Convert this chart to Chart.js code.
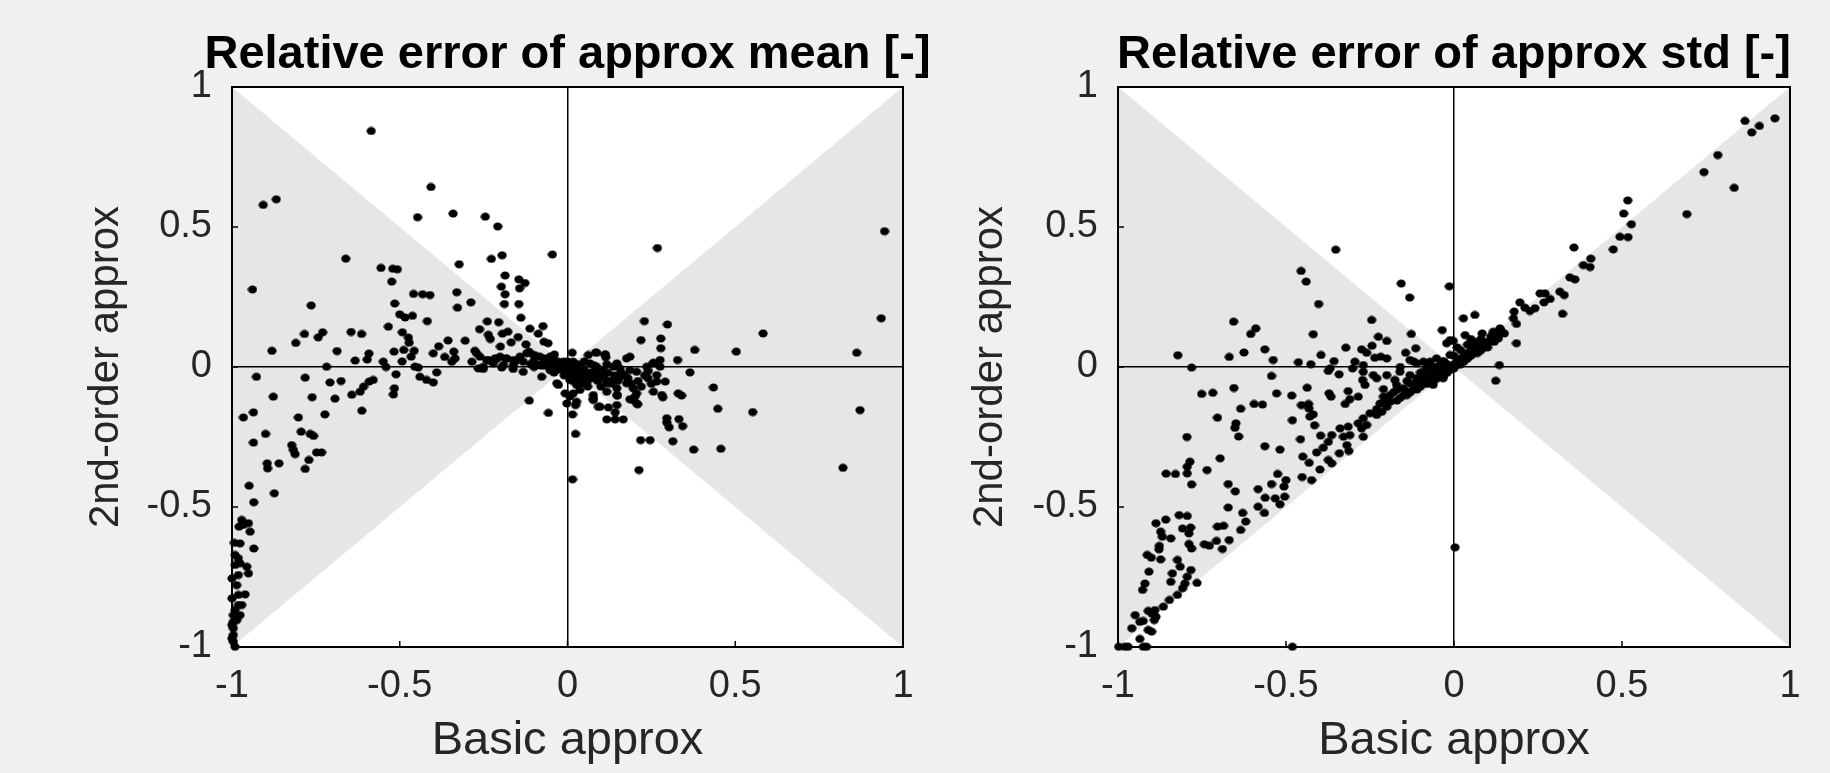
<!DOCTYPE html>
<html>
<head>
<meta charset="utf-8">
<script src="https://cdn.jsdelivr.net/npm/chart.js@4/dist/chart.umd.min.js"></script>
<style>
  body { margin: 0; background: #f0f0f0; overflow: hidden; }
  #wrap { position: relative; width: 1830px; height: 773px; overflow: hidden; }
  canvas { position: absolute; top: 0; }
</style>
</head>
<body>
<div id="wrap">
  <!-- the left canvas runs under the right one so its wide title is not cut -->
  <canvas id="meanChart" width="1000" height="773" style="left:0"></canvas>
  <canvas id="stdChart" width="915" height="773" style="left:915px"></canvas>
</div>
<script>
// axis ticks shared by both panels
const tickValues = [-1, -0.5, 0, 0.5, 1];
const tickLabels = ["-1", "-0.5", "0", "0.5", "1"];

// shaded region |y| < |x| (bow tie)
const shadeX = [-1, 0, 1, 1, 0, -1];
const shadeY = [1, 0, 1, -1, 0, -1];

// [basic approx, 2nd-order approx] relative error of the mean
const meanPts = [
  [-0.585,0.843],[-0.907,0.579],[-0.868,0.599],[-0.407,0.643],[-0.447,0.535],[-0.341,0.548],[-0.245,0.537],[-0.208,0.502],[-0.045,0.402],[-0.661,0.387],
  [-0.227,0.386],[-0.195,0.399],[-0.323,0.367],[-0.556,0.354],[-0.521,0.351],[-0.507,0.349],[-0.524,0.305],[-0.939,0.277],[-0.186,0.327],[-0.145,0.313],
  [-0.127,0.300],[-0.197,0.287],[-0.143,0.281],[-0.186,0.260],[-0.459,0.261],[-0.432,0.260],[-0.410,0.257],[-0.330,0.267],[-0.515,0.227],[-0.764,0.220],
  [-0.288,0.231],[-0.328,0.212],[-0.188,0.225],[-0.145,0.225],[-0.500,0.188],[-0.484,0.177],[-0.462,0.183],[-0.139,0.176],[-0.418,0.164],[-0.239,0.163],
  [-0.205,0.160],[-0.534,0.144],[-0.262,0.135],[-0.112,0.137],[-0.073,0.146],[-0.784,0.118],[-0.730,0.124],[-0.743,0.106],[-0.645,0.125],[-0.614,0.118],
  [-0.492,0.124],[-0.236,0.115],[-0.194,0.119],[-0.178,0.126],[-0.087,0.119],[-0.474,0.105],[-0.230,0.100],[-0.168,0.088],[-0.147,0.107],[-0.810,0.086],
  [-0.472,0.087],[-0.384,0.074],[-0.356,0.095],[-0.305,0.094],[-0.200,0.073],[-0.124,0.081],[-0.070,0.090],[-0.058,0.085],[-0.881,0.058],[-0.687,0.057],
  [-0.488,0.061],[-0.457,0.058],[-0.517,0.055],[-0.592,0.048],[-0.633,0.023],[-0.597,0.027],[-0.549,0.019],[-0.493,0.020],[-0.466,0.037],[-0.400,0.049],
  [-0.366,0.036],[-0.339,0.055],[-0.335,0.031],[-0.345,0.019],[-0.276,0.058],[-0.271,0.049],[-0.285,0.019],[-0.236,0.025],[-0.211,0.029],[-0.184,0.029],
  [-0.156,0.019],[-0.115,0.055],[-0.095,0.040],[-0.070,0.031],[-0.052,0.037],[-0.039,0.045],[-0.027,0.019],[-0.718,0.001],[-0.455,0.001],
  [-0.261,0.037],[-0.241,0.025],[-0.216,0.031],[-0.201,0.037],[-0.181,0.031],[-0.161,0.025],[-0.142,0.037],[-0.122,0.049],[-0.102,0.043],[-0.082,0.037],
  [-0.062,0.025],[-0.042,0.031],[-0.022,0.013],[-0.002,0.013],[-0.251,0.001],[-0.221,0.013],[-0.191,0.007],[-0.161,0.007],[-0.132,0.019],[-0.102,0.019],
  [-0.072,0.013],[-0.042,0.007],[-0.012,0.001],[-0.132,-0.017],[-0.077,-0.035],[-0.032,-0.058],[-0.007,-0.094],[-0.002,-0.130],[-0.114,-0.120],[0.020,-0.040],
  [0.027,-0.064],[0.007,-0.046],[0.037,-0.082],[0.017,-0.094],[0.037,0.001],[0.067,0.013],[0.087,0.001],[0.107,-0.011],[0.137,0.001],[0.156,-0.005],
  [0.186,-0.011],[0.206,-0.017],[0.236,0.001],[0.256,0.013],[0.276,0.001],[0.062,0.043],[0.087,0.051],[0.112,0.043],[0.176,0.031],[0.186,0.037],
  [0.117,-0.058],[0.137,-0.046],[0.156,-0.035],[0.147,-0.076],[0.176,-0.058],[0.196,-0.076],[0.206,-0.094],[0.117,-0.088],[0.077,-0.100],[0.077,-0.118],
  [0.147,-0.100],[0.147,-0.136],[0.196,-0.118],[0.206,-0.130],[0.256,-0.088],[0.281,-0.100],[0.266,-0.052],[0.291,-0.052],[0.330,-0.094],[0.092,-0.142],
  [0.122,-0.144],[0.027,-0.124],[0.007,-0.106],
  [-0.03,0.0],[-0.02,-0.01],[-0.01,0.005],[0.0,-0.01],[0.01,-0.02],[0.02,-0.005],[0.03,-0.02],[0.04,-0.03],[0.05,-0.01],[0.06,-0.03],
  [0.07,-0.02],[0.08,-0.04],[0.09,-0.015],[0.10,-0.03],[0.12,-0.02],[0.05,0.02],[0.03,0.01],[-0.06,0.01],[-0.08,0.005],[-0.10,0.0],
  [0.0,0.02],[0.015,-0.05],[0.04,-0.06],[0.06,-0.07],[0.10,-0.07],[0.13,-0.06],[0.16,-0.02],[0.18,-0.04],[0.21,-0.05],[0.23,-0.03],[0.25,-0.06],
  [0.00,-0.03],[0.02,-0.03],[0.04,-0.01],[0.06,-0.05],[0.08,-0.02],[0.09,-0.05],[0.11,-0.04],[0.12,-0.05],[0.14,-0.03],[0.15,-0.05],
  [0.17,-0.03],[0.19,-0.06],[0.22,-0.07],[0.24,-0.04],[0.03,-0.04],[0.05,-0.04],[-0.01,-0.03],[-0.04,-0.02],[-0.05,0.0],[-0.07,0.005],
  [-0.09,0.01],[-0.11,0.01],[0.01,0.00],[0.02,0.01],[0.04,0.005],
  [0.268,0.425],[0.945,0.485],[0.935,0.174],[0.229,0.164],[0.298,0.152],[0.583,0.120],[0.219,0.096],[0.278,0.102],[0.278,0.067],[0.379,0.061],
  [0.503,0.055],[0.862,0.051],[0.328,0.025],[0.276,0.025],[0.256,0.015],[0.113,0.045],[0.114,0.035],[0.084,0.052],[0.014,0.051],[0.147,0.013],
  [0.117,0.010],[0.077,0.007],[0.017,0.019],[-0.012,0.019],
  [-0.541,0.000],[-0.445,-0.002],[-0.390,-0.019],[-0.266,-0.005],[-0.251,-0.007],[-0.196,-0.002],[-0.162,-0.007],[-0.052,-0.011],[-0.027,-0.064],[-0.057,-0.164],
  [-0.927,-0.035],[-0.782,-0.038],[-0.708,-0.055],[-0.675,-0.050],[-0.877,-0.106],[-0.761,-0.108],[-0.693,-0.113],[-0.643,-0.099],[-0.618,-0.088],[-0.608,-0.070],
  [-0.591,-0.052],[-0.579,-0.046],[-0.511,-0.026],[-0.516,-0.076],[-0.519,-0.098],[-0.440,-0.035],[-0.420,-0.046],[-0.400,-0.055],[-0.966,-0.180],[-0.936,-0.162],
  [-0.802,-0.180],[-0.723,-0.169],[-0.613,-0.156],[-0.900,-0.239],[-0.936,-0.270],[-0.794,-0.231],[-0.767,-0.239],[-0.757,-0.246],[-0.822,-0.279],[-0.817,-0.296],
  [-0.812,-0.311],[-0.748,-0.305],[-0.733,-0.305],[-0.771,-0.332],[-0.895,-0.344],[-0.894,-0.362],[-0.860,-0.344],[-0.782,-0.364],[-0.949,-0.424],[-0.874,-0.451],
  [-0.935,-0.483],[-0.971,-0.546],[-0.966,-0.564],[-0.951,-0.558],[-0.946,-0.588],[-0.979,-0.570],[-0.993,-0.628],[-0.976,-0.630],[-0.935,-0.648],[-0.991,-0.671],
  [-0.981,-0.683],[-0.976,-0.701],[-0.991,-0.707],[-0.956,-0.713],[-0.951,-0.737],[-0.981,-0.743],[-0.986,-0.779],[-0.981,-0.814],[-0.961,-0.812],[-0.981,-0.850],
  [-0.991,-0.868],[-0.996,-0.886],[-0.976,-0.886],[-0.996,-0.910],[-0.996,-0.933],[-0.996,-0.957],[-0.996,-0.981],[-0.991,-0.999],[-1.0,-0.755],[-1.0,-0.826],
  [-1.0,-0.921],[-0.986,-0.904],[-0.971,-0.850],[-1.0,-0.969],
  [0.365,-0.019],[0.435,-0.073],[0.448,-0.149],[0.552,-0.161],[0.872,-0.154],[0.266,-0.029],[0.340,-0.102],[0.284,-0.108],[0.296,-0.183],[0.296,-0.198],
  [0.303,-0.215],[0.332,-0.186],[0.343,-0.211],[0.218,-0.261],[0.246,-0.261],[0.314,-0.265],[0.376,-0.295],[0.457,-0.292],[0.821,-0.360],[0.213,-0.368],
  [0.015,-0.401],[0.024,-0.239],[0.015,-0.169],[0.024,-0.136],[0.117,-0.187],[0.142,-0.187],[0.166,-0.187],[0.097,-0.142],[0.142,-0.162],[0.209,-0.133],
  [0.077,-0.112],[0.149,-0.102],[0.186,-0.115],[0.201,-0.106],[0.241,-0.014]
];

// [basic approx, 2nd-order approx] relative error of the std
const stdPts = [
  [-0.352,0.419],[-0.455,0.343],[-0.440,0.305],[-0.403,0.225],[-0.157,0.298],[-0.132,0.248],[-0.014,0.288],[-0.656,0.162],[-0.590,0.138],[-0.605,0.118],
  [-0.419,0.117],[-0.245,0.168],[-0.225,0.108],[-0.200,0.093],[-0.127,0.118],[-0.035,0.132],[-0.022,0.085],[-0.012,0.096],[-0.822,0.042],[-0.669,0.036],
  [-0.625,0.052],[-0.563,0.063],[-0.538,0.025],[-0.463,0.017],[-0.426,0.010],[-0.396,0.043],[-0.357,0.021],[-0.322,0.069],[-0.275,0.063],[-0.260,0.051],
  [-0.244,0.076],[-0.236,0.033],[-0.218,0.037],[-0.200,0.031],[-0.144,0.051],[-0.114,0.067],[-0.295,0.019],[-0.270,0.007],[-0.131,0.025],[-0.091,0.019],
  [-0.071,0.019],[-0.032,0.019],[-0.012,0.043],[-0.052,0.031],[-0.111,0.013],[-0.781,-0.002],[-0.369,-0.005],
  [0.955,0.888],[0.866,0.879],[0.886,0.838],[0.909,0.861],[0.785,0.757],[0.744,0.696],[0.834,0.640],[0.693,0.546],[0.517,0.595],[0.505,0.548],
  [0.528,0.510],[0.494,0.465],[0.518,0.464],[0.474,0.420],[0.357,0.427],[0.407,0.387],[0.385,0.364],[0.405,0.357],[0.345,0.320],[0.360,0.313],
  [0.315,0.269],[0.328,0.257],[0.256,0.263],[0.271,0.263],[0.286,0.243],[0.268,0.231],[0.323,0.190],[0.196,0.231],[0.211,0.212],[0.226,0.200],
  [0.241,0.210],[0.179,0.198],[0.177,0.174],[0.186,0.154],[0.186,0.085],[0.135,0.007],[0.028,0.174],[0.062,0.186],[0.033,0.114],[0.084,0.120],
  [0.117,0.126],[0.137,0.138],[0.132,0.102],[0.107,0.090],[-0.002,0.093],
  [0.01,0.02],[0.02,0.03],[0.03,0.04],[0.04,0.05],[0.05,0.06],[0.06,0.07],[0.07,0.07],[0.08,0.08],[0.09,0.085],[0.10,0.09],
  [0.02,0.06],[0.04,0.08],[0.06,0.09],[0.08,0.10],[0.11,0.11],[0.12,0.12],[0.14,0.13],[0.015,0.01],[0.03,0.02],[0.05,0.04],
  [0.07,0.05],[0.09,0.07],[0.0,0.04],[0.01,0.07],[0.05,0.10],
  [-0.543,-0.032],[-0.751,-0.096],[-0.718,-0.092],[-0.655,-0.075],[-0.528,-0.094],[-0.483,-0.102],[-0.437,-0.074],[-0.374,-0.014],[-0.342,-0.026],[-0.372,-0.094],
  [-0.366,-0.106],[-0.315,-0.086],[-0.285,-0.106],[-0.310,-0.115],[-0.324,-0.132],
  [-0.302,-0.005],[-0.270,-0.017],[-0.272,-0.046],[-0.265,-0.064],[-0.240,-0.029],[-0.230,-0.040],[-0.210,-0.079],[-0.210,-0.106],[-0.200,-0.029],[-0.176,-0.046],
  [-0.171,-0.064],[-0.151,-0.076],[-0.141,-0.088],[-0.131,-0.029],[-0.111,-0.040],[-0.081,-0.052],[-0.062,-0.064],[-0.032,-0.040],[-0.091,-0.017],[-0.052,-0.017],
  [-0.022,-0.011],[-0.071,-0.035],[-0.161,-0.017],[-0.190,-0.124],[-0.200,-0.142],[-0.215,-0.160],[-0.230,-0.171],[-0.250,-0.165],[-0.270,-0.183],[-0.285,-0.201],
  [-0.260,-0.207],
  [-0.595,-0.132],[-0.570,-0.134],[-0.635,-0.149],[-0.704,-0.181],[-0.649,-0.201],[-0.652,-0.217],[-0.641,-0.248],[-0.795,-0.250],[-0.481,-0.190],[-0.454,-0.136],
  [-0.433,-0.132],[-0.432,-0.148],[-0.429,-0.177],[-0.419,-0.169],[-0.415,-0.208],[-0.457,-0.258],[-0.563,-0.283],[-0.518,-0.295],[-0.696,-0.326],[-0.786,-0.338],
  [-0.794,-0.356],[-0.794,-0.380],[-0.781,-0.419],[-0.857,-0.381],[-0.829,-0.382],[-0.735,-0.368],[-0.450,-0.320],[-0.431,-0.342],[-0.452,-0.393],[-0.424,-0.404],
  [-0.399,-0.366],[-0.374,-0.332],[-0.364,-0.344],
  [-0.409,-0.305],[-0.389,-0.288],[-0.374,-0.267],[-0.364,-0.243],[-0.339,-0.219],[-0.315,-0.213],[-0.329,-0.249],[-0.310,-0.243],[-0.319,-0.279],[-0.313,-0.300],
  [-0.341,-0.308],[-0.270,-0.249],[-0.275,-0.219],[-0.397,-0.245],
  [-0.525,-0.382],[-0.500,-0.404],[-0.506,-0.427],[-0.543,-0.418],[-0.583,-0.436],[-0.562,-0.467],[-0.583,-0.499],[-0.564,-0.521],[-0.532,-0.469],[-0.518,-0.490],
  [-0.504,-0.463],[-0.672,-0.418],[-0.651,-0.444],[-0.672,-0.502],[-0.629,-0.521],[-0.620,-0.552],[-0.635,-0.582],[-0.704,-0.570],[-0.686,-0.567],[-0.669,-0.618],
  [-0.707,-0.621],[-0.689,-0.650],[-0.743,-0.633],[-0.728,-0.638],[-0.818,-0.529],[-0.794,-0.532],[-0.858,-0.545],[-0.887,-0.558],[-0.808,-0.577],[-0.784,-0.573],
  [-0.789,-0.594],[-0.789,-0.632],[-0.781,-0.648],[-0.873,-0.588],[-0.868,-0.606],[-0.843,-0.612],[-0.877,-0.639],[-0.878,-0.651],[-0.913,-0.671],[-0.901,-0.681],
  [-0.873,-0.687],[-0.823,-0.689],[-0.815,-0.713],[-0.783,-0.725],[-0.908,-0.731],[-0.838,-0.737],[-0.843,-0.767],[-0.794,-0.749],[-0.801,-0.773],[-0.808,-0.790],
  [-0.765,-0.771],[-0.920,-0.773],[-0.927,-0.796],
  [-0.823,-0.814],[-0.847,-0.832],[-0.865,-0.856],[-0.890,-0.868],[-0.900,-0.880],[-0.910,-0.871],[-0.887,-0.892],[-0.892,-0.904],[-0.925,-0.907],[-0.935,-0.910],
  [-0.949,-0.886],[-0.959,-0.933],[-0.910,-0.939],[-0.900,-0.945],[-0.935,-0.971],
  [-0.998,-0.999],[-0.980,-0.999],[-0.970,-0.999],[-0.925,-0.999],[-0.915,-0.999],[-0.481,-0.999],
  [0.124,-0.049],[0.003,-0.644],
  [-0.02,-0.02],[-0.03,-0.01],[-0.04,-0.03],[-0.05,-0.04],[-0.06,-0.03],[-0.07,-0.05],[-0.08,-0.06],[-0.09,-0.04],[-0.1,-0.07],[-0.11,-0.08],
  [-0.12,-0.06],[-0.13,-0.09],[-0.01,0.0],[0.0,0.01],[-0.03,0.02],[-0.05,0.0],[-0.08,0.0],[-0.1,-0.02],[-0.15,-0.1],[-0.17,-0.12],
  [-0.14,-0.05],[-0.18,-0.09],[-0.16,0.0],[-0.12,0.02],
  [-0.03,-0.03],[-0.05,-0.02],[-0.06,-0.05],[-0.07,-0.02],[-0.09,-0.06],[-0.1,-0.05],[-0.12,-0.08],[-0.13,-0.06],[-0.14,-0.1],[-0.16,-0.11],
  [-0.17,-0.08],[-0.19,-0.1],[-0.2,-0.12],[-0.22,-0.13],[-0.23,-0.15],[-0.01,-0.01],[0.0,-0.005],[0.02,0.01],[0.04,0.03],[0.06,0.05],
  [0.08,0.06],[0.1,0.07],[0.12,0.09],[0.13,0.11],[0.15,0.12],[-0.04,0.01],[-0.06,0.0],[-0.02,0.01]
];

const FONT = "'Liberation Sans', Arial, sans-serif";

// markers are slightly wider than tall in the reference
const dot = document.createElement("canvas");
dot.width = 10;
dot.height = 9;
(function () {
  const c = dot.getContext("2d");
  c.fillStyle = "#000000";
  c.beginPath();
  c.ellipse(5, 4.5, 4.6, 4.0, 0, 0, Math.PI * 2);
  c.fill();
})();

// white axes, grey bow tie, box, inward ticks and a title centred on the axes
const framePlugin = {
  id: "frame",
  beforeDraw(chart) {
    const { ctx, chartArea: a, scales: { x, y } } = chart;
    ctx.save();
    ctx.fillStyle = "#ffffff";
    ctx.fillRect(a.left, a.top, a.width, a.height);
    ctx.beginPath();
    shadeX.forEach(function (v, i) {
      const px = x.getPixelForValue(v);
      const py = y.getPixelForValue(shadeY[i]);
      if (i === 0) ctx.moveTo(px, py); else ctx.lineTo(px, py);
    });
    ctx.closePath();
    ctx.fillStyle = "#e6e6e6";
    ctx.fill();
    ctx.restore();
  },
  beforeDatasetsDraw(chart) {
    const { ctx, chartArea: a, scales: { x, y } } = chart;
    ctx.save();
    ctx.strokeStyle = "#000000";
    ctx.lineWidth = 1.5;
    ctx.beginPath();
    tickValues.forEach(function (v) {
      const px = x.getPixelForValue(v);
      ctx.moveTo(px, a.bottom);
      ctx.lineTo(px, a.bottom - 6);
      const py = y.getPixelForValue(v);
      ctx.moveTo(a.left, py);
      ctx.lineTo(a.left + 6, py);
    });
    ctx.stroke();
    ctx.lineWidth = 2;
    ctx.strokeRect(a.left, a.top, a.width, a.height);
    ctx.restore();
  },
  afterDraw(chart, args, opts) {
    const { ctx, chartArea: a } = chart;
    ctx.save();
    ctx.font = "bold 47px " + FONT;
    ctx.fillStyle = "#000000";
    ctx.textAlign = "center";
    ctx.textBaseline = "middle";
    ctx.fillText(opts.text, (a.left + a.right) / 2, 55);
    ctx.restore();
  }
};

function makePanel(canvasId, points, titleText, areaLeft, padRight, yTitlePad) {
  const axisCommon = {
    type: "linear",
    min: -1,
    max: 1,
    afterBuildTicks: function (scale) {
      scale.ticks = tickValues.map(function (v) { return { value: v }; });
    },
    ticks: {
      callback: function (value, index) { return tickLabels[index]; },
      font: { family: FONT, size: 38 },
      color: "#262626",
      autoSkip: false,
      maxRotation: 0
    },
    grid: {
      drawTicks: false,
      lineWidth: 1.5,
      color: function (c) {
        return c.tick && c.tick.value === 0 ? "#000000" : "rgba(0,0,0,0)";
      }
    },
    border: { display: false }
  };

  return new Chart(document.getElementById(canvasId), {
    type: "scatter",
    data: {
      datasets: [{
        data: points.map(function (p) { return { x: p[0], y: p[1] }; }),
        pointStyle: dot,
        pointRadius: 4,
        clip: false
      }]
    },
    options: {
      responsive: false,
      animation: false,
      layout: { padding: { left: 0, right: padRight, top: 87, bottom: 0 } },
      plugins: {
        legend: { display: false },
        tooltip: { enabled: false },
        title: { display: false },
        frame: { text: titleText }
      },
      scales: {
        x: Object.assign({}, axisCommon, {
          position: "bottom",
          ticks: Object.assign({}, axisCommon.ticks, { padding: 17 }),
          title: {
            display: true,
            text: "Basic approx",
            color: "#262626",
            font: { family: FONT, size: 47 },
            padding: { top: 0, bottom: 4 }
          },
          afterFit: function (scale) {
            scale.height = 773 - 647;
            scale.paddingLeft = 0;
            scale.paddingRight = 0;
          }
        }),
        y: Object.assign({}, axisCommon, {
          position: "left",
          ticks: Object.assign({}, axisCommon.ticks, { padding: 20 }),
          title: {
            display: true,
            text: "2nd-order approx",
            color: "#262626",
            font: { family: FONT, size: 42 },
            padding: { top: yTitlePad, bottom: 0 }
          },
          afterFit: function (scale) {
            scale.width = areaLeft;
            scale.paddingTop = 0;
            scale.paddingBottom = 0;
          }
        })
      }
    },
    plugins: [framePlugin]
  });
}

makePanel("meanChart", meanPts, "Relative error of approx mean [-]", 232, 97, 81);
makePanel("stdChart", stdPts, "Relative error of approx std [-]", 203, 40, 50);
</script>
</body>
</html>
